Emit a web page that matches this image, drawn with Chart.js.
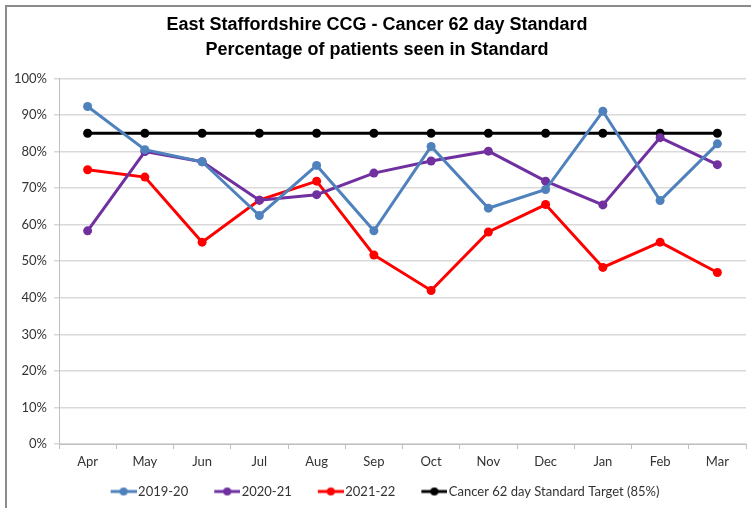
<!DOCTYPE html>
<html>
<head>
<meta charset="utf-8">
<script src="https://cdn.jsdelivr.net/npm/chart.js@4"></script>
<style>
  html, body { margin: 0; padding: 0; background: #fff; }
  #wrap { position: relative; width: 751px; height: 508px; overflow: hidden; }
  #frame { position: absolute; left: 5px; top: 5px; width: 800px; height: 600px;
           border-left: 2px solid #8c8c8c; border-top: 2px solid #8c8c8c; }
  canvas { position: absolute; left: 0; top: 0; }
</style>
</head>
<body>
<div id="wrap">
  <div id="frame"></div>
  <canvas id="cancerChart" width="751" height="508"></canvas>
</div>
<script>
// chart data
const months = ["Apr", "May", "Jun", "Jul", "Aug", "Sep", "Oct", "Nov", "Dec", "Jan", "Feb", "Mar"];
const year1920 = [92.3, 80.5, 77.2, 62.5, 76.2, 58.3, 81.4, 64.5, 69.6, 91.0, 66.6, 82.1];
const year2021 = [58.3, 80.0, 77.2, 66.7, 68.2, 74.1, 77.4, 80.1, 71.9, 65.4, 83.8, 76.4];
const year2122 = [75.0, 73.0, 55.2, 66.7, 71.9, 51.7, 42.0, 58.0, 65.5, 48.3, 55.2, 46.9];
const target = [85, 85, 85, 85, 85, 85, 85, 85, 85, 85, 85, 85];
const yTicks = [0, 10, 20, 30, 40, 50, 60, 70, 80, 90, 100];

const seriesNames = ["2019-20", "2020-21", "2021-22", "Cancer 62 day Standard Target (85%)"];
const seriesColours = ["#4f81bd", "#7030a0", "#ff0000", "#000000"];
const seriesData = [year1920, year2021, year2122, target];

//Legend marker: a short line with a dot, drawn at the right of a wider image
//so it sits right next to the label text
function legendMarker(colour) {
  const c = document.createElement("canvas");
  c.width = 47;
  c.height = 10;
  const ctx = c.getContext("2d");
  ctx.strokeStyle = colour;
  ctx.lineWidth = 3;
  ctx.beginPath();
  ctx.moveTo(21, 5);
  ctx.lineTo(47, 5);
  ctx.stroke();
  ctx.fillStyle = colour;
  ctx.beginPath();
  ctx.arc(34, 5, 4, 0, Math.PI * 2);
  ctx.fill();
  return c;
}

const datasets = seriesData.map((values, i) => ({
  label: seriesNames[i],
  data: values,
  borderColor: seriesColours[i],
  backgroundColor: seriesColours[i],
  borderWidth: 3,
  pointRadius: 4.5,
  pointHoverRadius: 4.5,
  pointBorderWidth: 0,
  tension: 0,
}));

const tickFont = { family: "Lato, 'Open Sans', sans-serif", size: 13 };

new Chart("cancerChart", {
  type: "line",
  data: { labels: months, datasets: datasets },
  options: {
    responsive: false,
    animation: false,
    layout: { padding: { left: 8, right: 5, top: 6, bottom: 0 } },
    plugins: {
      title: {
        display: true,
        text: ["East Staffordshire CCG - Cancer 62 day Standard", "Percentage of patients seen in Standard"],
        color: "#000",
        font: { family: "'Liberation Sans', Arial, sans-serif", size: 18, weight: "bold", lineHeight: 1.4 },
        padding: { top: 6, bottom: 16 },
      },
      legend: {
        position: "bottom",
        labels: {
          usePointStyle: true,
          pointStyleWidth: 37,
          color: "#333",
          font: { family: "Lato, 'Open Sans', sans-serif", size: 13 },
          padding: 10,
          generateLabels: (chart) =>
            chart.data.datasets.map((ds, i) => ({
              text: ds.label,
              pointStyle: legendMarker(ds.borderColor),
              fillStyle: ds.borderColor,
              strokeStyle: ds.borderColor,
              lineWidth: 0,
              datasetIndex: i,
              fontColor: "#333",
            })),
        },
      },
      tooltip: { enabled: false },
    },
    scales: {
      x: {
        offset: true,
        afterFit: (scale) => { scale.height = 31; },
        grid: {
          display: true,
          offset: true,
          drawOnChartArea: false,
          drawTicks: true,
          tickLength: 5,
          color: "#bfbfbf",
        },
        border: { color: "#bfbfbf", width: 1 },
        ticks: { color: "#333", font: tickFont, padding: 5 },
      },
      y: {
        min: 0,
        max: 100,
        afterFit: (scale) => { scale.width = 51; },
        afterBuildTicks: (scale) => { scale.ticks = yTicks.map((v) => ({ value: v })); },
        grid: { color: "#d9d9d9", lineWidth: 1.5, tickLength: 5, drawTicks: true },
        border: { color: "#bfbfbf", width: 1 },
        ticks: {
          color: "#333",
          font: tickFont,
          padding: 7,
          callback: (v) => v + "%",
        },
      },
    },
  },
});
</script>
</body>
</html>
